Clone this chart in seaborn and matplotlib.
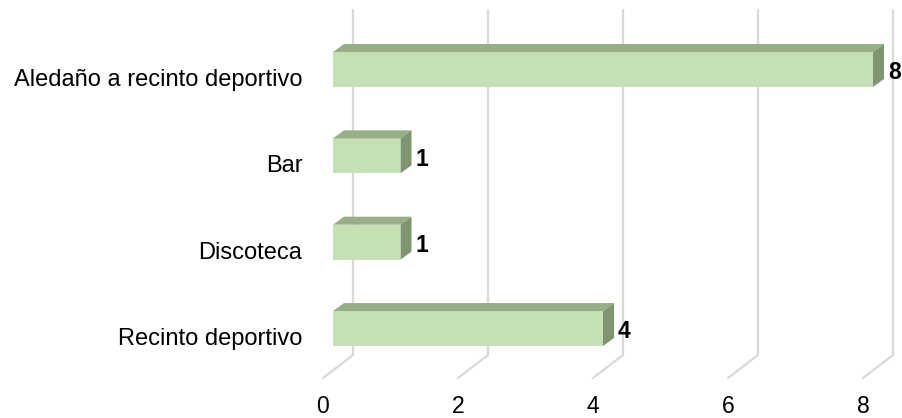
import matplotlib
matplotlib.use("Agg")
import numpy as np
import pandas as pd
import seaborn as sns
import matplotlib.pyplot as plt
from matplotlib.patches import Polygon
from matplotlib.lines import Line2D
from matplotlib.transforms import ScaledTranslation, IdentityTransform

# Data
categories = ["Aledaño a recinto deportivo", "Bar", "Discoteca", "Recinto deportivo"]
counts = [8, 1, 1, 4]
x_ticks = [0, 2, 4, 6, 8]

# Colours of the three visible faces of each box
FRONT = "#C5E0B4"
TOP = "#98AE88"
SIDE = "#7F9471"
GRID = "#D9D9D9"

sns.set_theme(style="white")
plt.rcParams["font.family"] = ["Liberation Sans", "DejaVu Sans"]

W, H = 903, 418
fig = plt.figure(figsize=(W / 100, H / 100), dpi=100, facecolor="white")
ax = fig.add_axes([333 / W, (H - 378) / H, 540 / W, 368 / H])

df = pd.DataFrame({"lugar": categories, "n": counts})
sns.barplot(data=df, x="n", y="lugar", orient="h", color=FRONT,
            saturation=1, width=0.405, linewidth=0, ax=ax, zorder=3)

ax.set_xlim(0, 8)
ax.set_ylim(3.573, -0.689)
ax.set_xlabel("")
ax.set_ylabel("")
ax.grid(False)
for s in ax.spines.values():
    s.set_visible(False)
ax.patch.set_alpha(0)

# depth of the boxes and of the floor, in pixels
DX, DY = 11, 8
FLOOR_DX = 30
BACK_SHIFT = 20
floor_back = 0.0625

# gridlines on the back wall, bending onto the floor
for v in x_ticks:
    xd = ax.transData.transform((v, 0))[0]
    y_top = ax.transAxes.transform((0, 1))[1]
    y_back = ax.transAxes.transform((0, floor_back))[1]
    y_front = ax.transAxes.transform((0, 0))[1]
    ln = Line2D([xd + BACK_SHIFT, xd + BACK_SHIFT, xd + BACK_SHIFT - FLOOR_DX],
                [y_top, y_back, y_front], transform=IdentityTransform(),
                color=GRID, lw=1.6, zorder=0, solid_joinstyle="miter")
    fig.add_artist(ln)

# top and side faces of each bar
for p in list(ax.patches):
    (xa, ya) = ax.transData.transform((p.get_x(), p.get_y()))
    (xb, yb) = ax.transData.transform((p.get_x() + p.get_width(), p.get_y() + p.get_height()))
    x0, x1 = min(xa, xb), max(xa, xb)
    y0, y1 = min(ya, yb), max(ya, yb)
    top = Polygon([(x0, y1), (x1, y1), (x1 + DX, y1 + DY), (x0 + DX, y1 + DY)],
                  closed=True, transform=IdentityTransform(), facecolor=TOP,
                  edgecolor="none", zorder=4)
    side = Polygon([(x1, y0), (x1, y1), (x1 + DX, y1 + DY), (x1 + DX, y0 + DY)],
                   closed=True, transform=IdentityTransform(), facecolor=SIDE,
                   edgecolor="none", zorder=4)
    fig.add_artist(top)
    fig.add_artist(side)

# value labels
for i, v in enumerate(counts):
    ax.annotate(str(v), xy=(v, i), xytext=(10.8, -2.4), textcoords="offset points",
                ha="left", va="center", fontsize=16.5, fontweight="bold", color="black",
                zorder=5)

ax.set_xticks(x_ticks)
ax.set_xticklabels([str(t) for t in x_ticks])
ax.tick_params(axis="x", length=0, pad=12, labelsize=16.5, colors="black")
ax.tick_params(axis="y", length=0, pad=22, labelsize=17, colors="black")
for t in ax.xaxis.get_major_ticks():
    t.label1.set_transform(t.label1.get_transform() + ScaledTranslation(-0.10, 0, fig.dpi_scale_trans))
for t in ax.yaxis.get_major_ticks():
    t.label1.set_transform(t.label1.get_transform() + ScaledTranslation(0, -0.08, fig.dpi_scale_trans))

fig.savefig("out.png", dpi=100, facecolor="white")
